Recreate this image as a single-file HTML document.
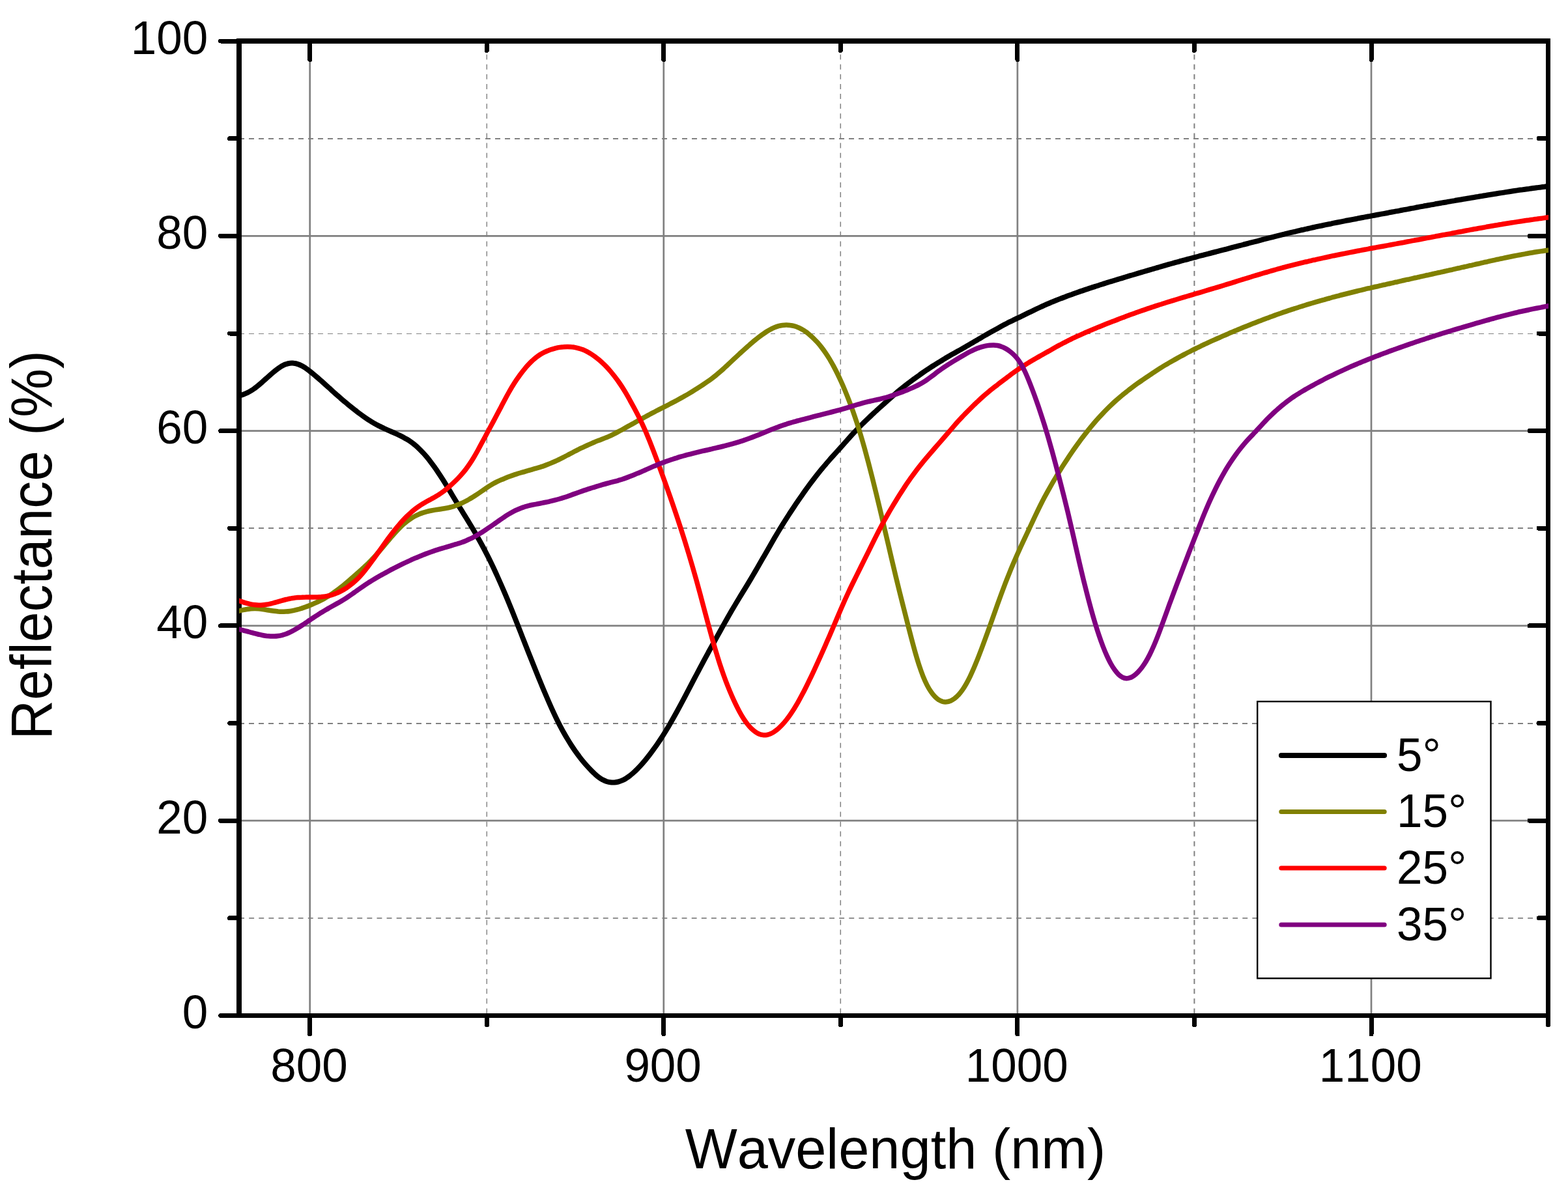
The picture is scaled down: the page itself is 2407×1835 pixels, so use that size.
<!DOCTYPE html>
<html lang="en"><head><meta charset="utf-8"><title>Reflectance vs Wavelength</title>
<style>html,body{margin:0;padding:0;width:2407px;height:1835px;background:#fff;}svg{display:block;}text{font-family:"Liberation Sans",sans-serif;fill:#000;font-kerning:none;font-variant-ligatures:none;}</style>
</head><body>
<svg width="2407" height="1835" viewBox="0 0 2407 1835">
<rect width="2407" height="1835" fill="#fff"/>
<defs><clipPath id="pc"><rect x="367.1" y="63.0" width="2009.9" height="1496.5"/></clipPath></defs>
<g stroke="#808080"><line x1="475.7" y1="63.0" x2="475.7" y2="1559.5" stroke-width="2.7"/><line x1="1018.8" y1="63.0" x2="1018.8" y2="1559.5" stroke-width="2.7"/><line x1="1561.9" y1="63.0" x2="1561.9" y2="1559.5" stroke-width="2.7"/><line x1="2105.0" y1="63.0" x2="2105.0" y2="1559.5" stroke-width="2.7"/><line x1="367.1" y1="1260.2" x2="2376.5" y2="1260.2" stroke-width="2.7"/><line x1="367.1" y1="960.9" x2="2376.5" y2="960.9" stroke-width="2.7"/><line x1="367.1" y1="661.6" x2="2376.5" y2="661.6" stroke-width="2.7"/><line x1="367.1" y1="362.3" x2="2376.5" y2="362.3" stroke-width="2.7"/></g>
<g stroke="#808080"><line x1="747.3" y1="63.0" x2="747.3" y2="1559.5" stroke-width="1.4" stroke-dasharray="7.9 7.2" stroke-dashoffset="-5.6"/><line x1="1290.3" y1="63.0" x2="1290.3" y2="1559.5" stroke-width="1.5" stroke-dasharray="7.9 7.2" stroke-dashoffset="-5.6"/><line x1="1833.4" y1="63.0" x2="1833.4" y2="1559.5" stroke-width="2.0" stroke-dasharray="7.9 7.2" stroke-dashoffset="-5.6"/><line x1="367.1" y1="1409.8" x2="2376.5" y2="1409.8" stroke-width="1.7" stroke-dasharray="7.9 7.2"/><line x1="367.1" y1="1111.0" x2="2376.5" y2="1111.0" stroke-width="2.0" stroke-dasharray="7.9 7.2" shape-rendering="crispEdges"/><line x1="367.1" y1="811.0" x2="2376.5" y2="811.0" stroke-width="2.0" stroke-dasharray="7.9 7.2" shape-rendering="crispEdges"/><line x1="367.1" y1="512.5" x2="2376.5" y2="512.5" stroke-width="1.0" stroke-dasharray="7.9 7.2" shape-rendering="crispEdges"/><line x1="367.1" y1="213.0" x2="2376.5" y2="213.0" stroke-width="2.0" stroke-dasharray="7.9 7.2" shape-rendering="crispEdges"/></g>
<g stroke="#000" stroke-width="7" stroke-linecap="round" shape-rendering="crispEdges"><line x1="367.1" y1="59.0" x2="367.1" y2="1563.0" stroke-width="7.8" stroke-linecap="butt"/><line x1="2376.5" y1="59.0" x2="2376.5" y2="1563.0" stroke-width="7" stroke-linecap="butt"/><line x1="363.2" y1="63.0" x2="2380.0" y2="63.0" stroke-width="8" stroke-linecap="butt"/><line x1="363.2" y1="1559.5" x2="2380.0" y2="1559.5" stroke-width="7" stroke-linecap="butt"/><line x1="475.7" y1="1559.5" x2="475.7" y2="1588.0"/><line x1="475.7" y1="63.0" x2="475.7" y2="91.5"/><line x1="747.3" y1="1559.5" x2="747.3" y2="1574.0"/><line x1="747.3" y1="63.0" x2="747.3" y2="77.5"/><line x1="1018.8" y1="1559.5" x2="1018.8" y2="1588.0"/><line x1="1018.8" y1="63.0" x2="1018.8" y2="91.5"/><line x1="1290.3" y1="1559.5" x2="1290.3" y2="1574.0"/><line x1="1290.3" y1="63.0" x2="1290.3" y2="77.5"/><line x1="1561.9" y1="1559.5" x2="1561.9" y2="1588.0"/><line x1="1561.9" y1="63.0" x2="1561.9" y2="91.5"/><line x1="1833.4" y1="1559.5" x2="1833.4" y2="1574.0"/><line x1="1833.4" y1="63.0" x2="1833.4" y2="77.5"/><line x1="2105.0" y1="1559.5" x2="2105.0" y2="1588.0"/><line x1="2105.0" y1="63.0" x2="2105.0" y2="91.5"/><line x1="2376.5" y1="1559.5" x2="2376.5" y2="1574.0"/><line x1="2376.5" y1="63.0" x2="2376.5" y2="77.5"/><line x1="367.1" y1="1559.5" x2="338.6" y2="1559.5"/><line x1="2376.5" y1="1559.5" x2="2348.0" y2="1559.5"/><line x1="367.1" y1="1409.8" x2="352.6" y2="1409.8"/><line x1="2376.5" y1="1409.8" x2="2362.0" y2="1409.8"/><line x1="367.1" y1="1260.2" x2="338.6" y2="1260.2"/><line x1="2376.5" y1="1260.2" x2="2348.0" y2="1260.2"/><line x1="367.1" y1="1110.5" x2="352.6" y2="1110.5"/><line x1="2376.5" y1="1110.5" x2="2362.0" y2="1110.5"/><line x1="367.1" y1="960.9" x2="338.6" y2="960.9"/><line x1="2376.5" y1="960.9" x2="2348.0" y2="960.9"/><line x1="367.1" y1="811.2" x2="352.6" y2="811.2"/><line x1="2376.5" y1="811.2" x2="2362.0" y2="811.2"/><line x1="367.1" y1="661.6" x2="338.6" y2="661.6"/><line x1="2376.5" y1="661.6" x2="2348.0" y2="661.6"/><line x1="367.1" y1="512.0" x2="352.6" y2="512.0"/><line x1="2376.5" y1="512.0" x2="2362.0" y2="512.0"/><line x1="367.1" y1="362.3" x2="338.6" y2="362.3"/><line x1="2376.5" y1="362.3" x2="2348.0" y2="362.3"/><line x1="367.1" y1="212.7" x2="352.6" y2="212.7"/><line x1="2376.5" y1="212.7" x2="2362.0" y2="212.7"/><line x1="367.1" y1="63.0" x2="338.6" y2="63.0"/><line x1="2376.5" y1="63.0" x2="2348.0" y2="63.0"/></g>
<g clip-path="url(#pc)" fill="none" stroke-linejoin="round"><path d="M355.1 610.6C356.1 610.4 359.1 609.8 361.1 609.4C363.1 608.9 365.1 608.4 367.1 607.9C369.1 607.3 371.1 606.7 373.1 605.9C375.1 605.2 377.1 604.3 379.1 603.4C381.1 602.4 383.1 601.3 385.1 600.1C387.1 598.9 389.1 597.6 391.1 596.1C393.1 594.7 395.1 593.0 397.1 591.4C399.1 589.7 401.1 588.0 403.1 586.2C405.1 584.5 407.1 582.6 409.1 580.9C411.1 579.1 413.1 577.3 415.1 575.5C417.1 573.8 419.1 572.0 421.1 570.4C423.1 568.7 425.1 567.1 427.1 565.7C429.1 564.3 431.1 562.9 433.1 561.8C435.1 560.8 437.1 559.8 439.1 559.2C441.1 558.5 443.1 558.0 445.1 557.8C447.1 557.6 449.1 557.5 451.1 557.8C453.1 558.0 455.1 558.4 457.1 559.1C459.1 559.7 461.1 560.6 463.1 561.6C465.1 562.6 467.1 563.9 469.1 565.2C471.1 566.6 473.1 568.1 475.1 569.7C477.1 571.2 479.1 572.9 481.1 574.5C483.1 576.2 485.1 577.9 487.1 579.6C489.1 581.3 491.1 583.1 493.1 584.8C495.1 586.6 497.1 588.4 499.1 590.2C501.1 592.0 503.1 593.8 505.1 595.6C507.1 597.4 509.1 599.3 511.1 601.1C513.1 602.9 515.1 604.7 517.1 606.5C519.1 608.2 521.1 610.0 523.1 611.7C525.1 613.5 527.1 615.2 529.1 616.8C531.1 618.5 533.1 620.2 535.1 621.8C537.1 623.4 539.1 625.0 541.1 626.6C543.1 628.2 545.1 629.8 547.1 631.3C549.1 632.9 551.1 634.4 553.1 635.9C555.1 637.4 557.1 638.9 559.1 640.3C561.1 641.7 563.1 643.1 565.1 644.4C567.1 645.7 569.1 646.9 571.1 648.1C573.1 649.3 575.1 650.5 577.1 651.6C579.1 652.6 581.1 653.7 583.1 654.7C585.1 655.7 587.1 656.6 589.1 657.6C591.1 658.5 593.1 659.4 595.1 660.3C597.1 661.2 599.1 662.1 601.1 663.0C603.1 663.9 605.1 664.7 607.1 665.6C609.1 666.5 611.1 667.4 613.1 668.4C615.1 669.4 617.1 670.4 619.1 671.4C621.1 672.5 623.1 673.6 625.1 674.8C627.1 676.0 629.1 677.3 631.1 678.7C633.1 680.1 635.1 681.7 637.1 683.4C639.1 685.0 641.1 686.9 643.1 688.8C645.1 690.7 647.1 692.8 649.1 694.9C651.1 697.1 653.1 699.4 655.1 701.7C657.1 704.1 659.1 706.6 661.1 709.3C663.1 711.9 665.1 714.6 667.1 717.4C669.1 720.2 671.1 723.2 673.1 726.2C675.1 729.1 677.1 732.2 679.1 735.4C681.1 738.5 683.1 741.7 685.1 745.0C687.1 748.2 689.1 751.6 691.1 754.9C693.1 758.3 695.1 761.6 697.1 765.0C699.1 768.3 701.1 771.6 703.1 774.9C705.1 778.2 707.1 781.4 709.1 784.7C711.1 787.9 713.1 791.2 715.1 794.4C717.1 797.7 719.1 800.9 721.1 804.3C723.1 807.6 725.1 810.9 727.1 814.3C729.1 817.7 731.1 821.1 733.1 824.7C735.1 828.2 737.1 831.8 739.1 835.5C741.1 839.2 743.1 842.9 745.1 846.8C747.1 850.6 749.1 854.5 751.1 858.5C753.1 862.6 755.1 866.7 757.1 870.9C759.1 875.2 761.1 879.5 763.1 884.0C765.1 888.4 767.1 892.9 769.1 897.5C771.1 902.1 773.1 906.7 775.1 911.4C777.1 916.1 779.1 920.8 781.1 925.7C783.1 930.5 785.1 935.5 787.1 940.4C789.1 945.4 791.1 950.5 793.1 955.6C795.1 960.7 797.1 965.8 799.1 970.9C801.1 976.0 803.1 981.2 805.1 986.3C807.1 991.4 809.1 996.4 811.1 1001.4C813.1 1006.5 815.1 1011.5 817.1 1016.5C819.1 1021.5 821.1 1026.5 823.1 1031.4C825.1 1036.4 827.1 1041.4 829.1 1046.2C831.1 1051.1 833.1 1056.0 835.1 1060.7C837.1 1065.5 839.1 1070.2 841.1 1074.8C843.1 1079.4 845.1 1084.0 847.1 1088.4C849.1 1092.8 851.1 1097.1 853.1 1101.2C855.1 1105.4 857.1 1109.4 859.1 1113.3C861.1 1117.1 863.1 1120.9 865.1 1124.5C867.1 1128.1 869.1 1131.5 871.1 1134.8C873.1 1138.2 875.1 1141.4 877.1 1144.5C879.1 1147.5 881.1 1150.5 883.1 1153.4C885.1 1156.2 887.1 1159.0 889.1 1161.6C891.1 1164.3 893.1 1166.8 895.1 1169.2C897.1 1171.6 899.1 1173.9 901.1 1176.1C903.1 1178.4 905.1 1180.5 907.1 1182.6C909.1 1184.6 911.1 1186.6 913.1 1188.4C915.1 1190.2 917.1 1192.0 919.1 1193.5C921.1 1195.0 923.1 1196.3 925.1 1197.3C927.1 1198.4 929.1 1199.3 931.1 1200.0C933.1 1200.6 935.1 1201.1 937.1 1201.3C939.1 1201.6 941.1 1201.6 943.1 1201.5C945.1 1201.4 947.1 1201.0 949.1 1200.5C951.1 1200.0 953.1 1199.3 955.1 1198.4C957.1 1197.5 959.1 1196.4 961.1 1195.2C963.1 1193.9 965.1 1192.5 967.1 1191.0C969.1 1189.4 971.1 1187.7 973.1 1185.9C975.1 1184.1 977.1 1182.1 979.1 1180.1C981.1 1178.0 983.1 1175.9 985.1 1173.6C987.1 1171.4 989.1 1169.0 991.1 1166.6C993.1 1164.1 995.1 1161.6 997.1 1159.0C999.1 1156.4 1001.1 1153.7 1003.1 1150.9C1005.1 1148.1 1007.1 1145.3 1009.1 1142.4C1011.1 1139.5 1013.1 1136.6 1015.1 1133.5C1017.1 1130.4 1019.1 1127.3 1021.1 1124.0C1023.1 1120.7 1025.1 1117.4 1027.1 1114.0C1029.1 1110.5 1031.1 1107.0 1033.1 1103.5C1035.1 1099.9 1037.1 1096.3 1039.1 1092.7C1041.1 1089.0 1043.1 1085.3 1045.1 1081.6C1047.1 1077.9 1049.1 1074.1 1051.1 1070.3C1053.1 1066.5 1055.1 1062.7 1057.1 1058.9C1059.1 1055.1 1061.1 1051.2 1063.1 1047.4C1065.1 1043.6 1067.1 1039.8 1069.1 1036.0C1071.1 1032.2 1073.1 1028.4 1075.1 1024.6C1077.1 1020.8 1079.1 1017.1 1081.1 1013.4C1083.1 1009.7 1085.1 1006.0 1087.1 1002.3C1089.1 998.7 1091.1 995.1 1093.1 991.4C1095.1 987.8 1097.1 984.2 1099.1 980.6C1101.1 977.0 1103.1 973.3 1105.1 969.7C1107.1 966.1 1109.1 962.5 1111.1 958.9C1113.1 955.3 1115.1 951.8 1117.1 948.3C1119.1 944.7 1121.1 941.3 1123.1 937.8C1125.1 934.4 1127.1 931.0 1129.1 927.7C1131.1 924.3 1133.1 921.0 1135.1 917.7C1137.1 914.5 1139.1 911.2 1141.1 907.9C1143.1 904.7 1145.1 901.4 1147.1 898.1C1149.1 894.8 1151.1 891.4 1153.1 888.1C1155.1 884.7 1157.1 881.3 1159.1 877.9C1161.1 874.5 1163.1 871.0 1165.1 867.6C1167.1 864.1 1169.1 860.6 1171.1 857.1C1173.1 853.7 1175.1 850.2 1177.1 846.7C1179.1 843.2 1181.1 839.7 1183.1 836.2C1185.1 832.7 1187.1 829.3 1189.1 825.8C1191.1 822.4 1193.1 819.0 1195.1 815.7C1197.1 812.3 1199.1 809.0 1201.1 805.8C1203.1 802.6 1205.1 799.4 1207.1 796.3C1209.1 793.1 1211.1 790.1 1213.1 787.0C1215.1 784.0 1217.1 781.0 1219.1 778.0C1221.1 775.0 1223.1 772.0 1225.1 769.1C1227.1 766.2 1229.1 763.3 1231.1 760.4C1233.1 757.5 1235.1 754.7 1237.1 751.9C1239.1 749.1 1241.1 746.3 1243.1 743.6C1245.1 740.9 1247.1 738.3 1249.1 735.7C1251.1 733.1 1253.1 730.5 1255.1 728.0C1257.1 725.5 1259.1 723.1 1261.1 720.6C1263.1 718.2 1265.1 715.8 1267.1 713.5C1269.1 711.1 1271.1 708.8 1273.1 706.5C1275.1 704.2 1277.1 702.0 1279.1 699.8C1281.1 697.5 1283.1 695.3 1285.1 693.1C1287.1 690.9 1289.1 688.7 1291.1 686.5C1293.1 684.2 1295.1 682.0 1297.1 679.7C1299.1 677.5 1301.1 675.2 1303.1 673.0C1305.1 670.7 1307.1 668.5 1309.1 666.3C1311.1 664.1 1313.1 662.0 1315.1 659.9C1317.1 657.8 1319.1 655.7 1321.1 653.7C1323.1 651.7 1325.1 649.8 1327.1 647.8C1329.1 645.9 1331.1 644.0 1333.1 642.1C1335.1 640.2 1337.1 638.3 1339.1 636.4C1341.1 634.6 1343.1 632.7 1345.1 630.9C1347.1 629.0 1349.1 627.2 1351.1 625.4C1353.1 623.6 1355.1 621.8 1357.1 620.0C1359.1 618.2 1361.1 616.4 1363.1 614.6C1365.1 612.8 1367.1 611.1 1369.1 609.3C1371.1 607.5 1373.1 605.7 1375.1 604.0C1377.1 602.2 1379.1 600.5 1381.1 598.9C1383.1 597.2 1385.1 595.6 1387.1 594.0C1389.1 592.4 1391.1 590.9 1393.1 589.4C1395.1 587.8 1397.1 586.4 1399.1 584.9C1401.1 583.4 1403.1 581.9 1405.1 580.5C1407.1 579.0 1409.1 577.6 1411.1 576.2C1413.1 574.7 1415.1 573.3 1417.1 571.9C1419.1 570.6 1421.1 569.2 1423.1 567.8C1425.1 566.5 1427.1 565.2 1429.1 563.9C1431.1 562.6 1433.1 561.4 1435.1 560.1C1437.1 558.9 1439.1 557.7 1441.1 556.4C1443.1 555.2 1445.1 553.9 1447.1 552.7C1449.1 551.5 1451.1 550.2 1453.1 549.0C1455.1 547.8 1457.1 546.6 1459.1 545.5C1461.1 544.4 1463.1 543.3 1465.1 542.2C1467.1 541.0 1469.1 539.9 1471.1 538.8C1473.1 537.7 1475.1 536.5 1477.1 535.4C1479.1 534.2 1481.1 533.0 1483.1 531.9C1485.1 530.7 1487.1 529.5 1489.1 528.4C1491.1 527.2 1493.1 526.0 1495.1 524.9C1497.1 523.7 1499.1 522.5 1501.1 521.4C1503.1 520.2 1505.1 519.0 1507.1 517.9C1509.1 516.7 1511.1 515.6 1513.1 514.4C1515.1 513.3 1517.1 512.1 1519.1 511.0C1521.1 509.9 1523.1 508.8 1525.1 507.7C1527.1 506.6 1529.1 505.5 1531.1 504.4C1533.1 503.3 1535.1 502.2 1537.1 501.1C1539.1 500.0 1541.1 498.9 1543.1 497.8C1545.1 496.8 1547.1 495.7 1549.1 494.7C1551.1 493.7 1553.1 492.7 1555.1 491.8C1557.1 490.8 1559.1 489.9 1561.1 488.9C1563.1 488.0 1565.1 487.1 1567.1 486.1C1569.1 485.2 1571.1 484.2 1573.1 483.2C1575.1 482.2 1577.1 481.2 1579.1 480.2C1581.1 479.2 1583.1 478.2 1585.1 477.3C1587.1 476.3 1589.1 475.3 1591.1 474.4C1593.1 473.4 1595.1 472.5 1597.1 471.6C1599.1 470.7 1601.1 469.8 1603.1 468.9C1605.1 468.0 1607.1 467.1 1609.1 466.3C1611.1 465.4 1613.1 464.6 1615.1 463.7C1617.1 462.9 1619.1 462.1 1621.1 461.3C1623.1 460.5 1625.1 459.7 1627.1 458.9C1629.1 458.1 1631.1 457.3 1633.1 456.6C1635.1 455.8 1637.1 455.1 1639.1 454.3C1641.1 453.6 1643.1 452.9 1645.1 452.2C1647.1 451.4 1649.1 450.7 1651.1 450.0C1653.1 449.3 1655.1 448.6 1657.1 447.9C1659.1 447.2 1661.1 446.6 1663.1 445.9C1665.1 445.2 1667.1 444.5 1669.1 443.9C1671.1 443.2 1673.1 442.5 1675.1 441.9C1677.1 441.2 1679.1 440.6 1681.1 439.9C1683.1 439.3 1685.1 438.6 1687.1 438.0C1689.1 437.4 1691.1 436.7 1693.1 436.1C1695.1 435.5 1697.1 434.8 1699.1 434.2C1701.1 433.6 1703.1 433.0 1705.1 432.3C1707.1 431.7 1709.1 431.1 1711.1 430.5C1713.1 429.9 1715.1 429.3 1717.1 428.7C1719.1 428.1 1721.1 427.4 1723.1 426.8C1725.1 426.2 1727.1 425.6 1729.1 425.0C1731.1 424.4 1733.1 423.8 1735.1 423.2C1737.1 422.7 1739.1 422.1 1741.1 421.5C1743.1 420.9 1745.1 420.3 1747.1 419.7C1749.1 419.1 1751.1 418.5 1753.1 417.9C1755.1 417.3 1757.1 416.7 1759.1 416.1C1761.1 415.6 1763.1 415.0 1765.1 414.4C1767.1 413.8 1769.1 413.2 1771.1 412.6C1773.1 412.0 1775.1 411.5 1777.1 410.9C1779.1 410.3 1781.1 409.7 1783.1 409.1C1785.1 408.6 1787.1 408.0 1789.1 407.4C1791.1 406.9 1793.1 406.3 1795.1 405.7C1797.1 405.2 1799.1 404.6 1801.1 404.0C1803.1 403.5 1805.1 402.9 1807.1 402.4C1809.1 401.8 1811.1 401.3 1813.1 400.7C1815.1 400.2 1817.1 399.6 1819.1 399.1C1821.1 398.5 1823.1 398.0 1825.1 397.5C1827.1 396.9 1829.1 396.4 1831.1 395.9C1833.1 395.3 1835.1 394.8 1837.1 394.3C1839.1 393.8 1841.1 393.2 1843.1 392.7C1845.1 392.2 1847.1 391.7 1849.1 391.1C1851.1 390.6 1853.1 390.1 1855.1 389.6C1857.1 389.0 1859.1 388.5 1861.1 388.0C1863.1 387.5 1865.1 387.0 1867.1 386.5C1869.1 385.9 1871.1 385.4 1873.1 384.9C1875.1 384.4 1877.1 383.9 1879.1 383.4C1881.1 382.8 1883.1 382.3 1885.1 381.8C1887.1 381.3 1889.1 380.8 1891.1 380.2C1893.1 379.7 1895.1 379.2 1897.1 378.7C1899.1 378.2 1901.1 377.6 1903.1 377.1C1905.1 376.6 1907.1 376.1 1909.1 375.5C1911.1 375.0 1913.1 374.5 1915.1 374.0C1917.1 373.5 1919.1 372.9 1921.1 372.4C1923.1 371.9 1925.1 371.4 1927.1 370.9C1929.1 370.3 1931.1 369.8 1933.1 369.3C1935.1 368.8 1937.1 368.3 1939.1 367.7C1941.1 367.2 1943.1 366.7 1945.1 366.2C1947.1 365.7 1949.1 365.2 1951.1 364.7C1953.1 364.1 1955.1 363.6 1957.1 363.1C1959.1 362.6 1961.1 362.1 1963.1 361.6C1965.1 361.1 1967.1 360.6 1969.1 360.1C1971.1 359.6 1973.1 359.2 1975.1 358.7C1977.1 358.2 1979.1 357.7 1981.1 357.2C1983.1 356.8 1985.1 356.3 1987.1 355.8C1989.1 355.3 1991.1 354.9 1993.1 354.4C1995.1 353.9 1997.1 353.5 1999.1 353.0C2001.1 352.6 2003.1 352.1 2005.1 351.7C2007.1 351.2 2009.1 350.8 2011.1 350.3C2013.1 349.9 2015.1 349.5 2017.1 349.0C2019.1 348.6 2021.1 348.2 2023.1 347.7C2025.1 347.3 2027.1 346.9 2029.1 346.5C2031.1 346.0 2033.1 345.6 2035.1 345.2C2037.1 344.8 2039.1 344.4 2041.1 344.0C2043.1 343.6 2045.1 343.1 2047.1 342.7C2049.1 342.3 2051.1 341.9 2053.1 341.5C2055.1 341.1 2057.1 340.7 2059.1 340.3C2061.1 339.9 2063.1 339.5 2065.1 339.1C2067.1 338.7 2069.1 338.4 2071.1 338.0C2073.1 337.6 2075.1 337.2 2077.1 336.8C2079.1 336.4 2081.1 336.0 2083.1 335.7C2085.1 335.3 2087.1 334.9 2089.1 334.5C2091.1 334.1 2093.1 333.8 2095.1 333.4C2097.1 333.0 2099.1 332.6 2101.1 332.3C2103.1 331.9 2105.1 331.5 2107.1 331.1C2109.1 330.8 2111.1 330.4 2113.1 330.0C2115.1 329.6 2117.1 329.3 2119.1 328.9C2121.1 328.5 2123.1 328.2 2125.1 327.8C2127.1 327.4 2129.1 327.0 2131.1 326.7C2133.1 326.3 2135.1 325.9 2137.1 325.5C2139.1 325.2 2141.1 324.8 2143.1 324.4C2145.1 324.1 2147.1 323.7 2149.1 323.3C2151.1 322.9 2153.1 322.6 2155.1 322.2C2157.1 321.8 2159.1 321.4 2161.1 321.1C2163.1 320.7 2165.1 320.3 2167.1 319.9C2169.1 319.6 2171.1 319.2 2173.1 318.8C2175.1 318.4 2177.1 318.1 2179.1 317.7C2181.1 317.3 2183.1 317.0 2185.1 316.6C2187.1 316.2 2189.1 315.9 2191.1 315.5C2193.1 315.1 2195.1 314.8 2197.1 314.4C2199.1 314.1 2201.1 313.7 2203.1 313.3C2205.1 313.0 2207.1 312.6 2209.1 312.3C2211.1 311.9 2213.1 311.6 2215.1 311.2C2217.1 310.9 2219.1 310.5 2221.1 310.2C2223.1 309.8 2225.1 309.5 2227.1 309.1C2229.1 308.8 2231.1 308.4 2233.1 308.1C2235.1 307.7 2237.1 307.4 2239.1 307.0C2241.1 306.7 2243.1 306.4 2245.1 306.0C2247.1 305.7 2249.1 305.3 2251.1 305.0C2253.1 304.7 2255.1 304.3 2257.1 304.0C2259.1 303.7 2261.1 303.3 2263.1 303.0C2265.1 302.6 2267.1 302.3 2269.1 302.0C2271.1 301.6 2273.1 301.3 2275.1 301.0C2277.1 300.6 2279.1 300.3 2281.1 300.0C2283.1 299.6 2285.1 299.3 2287.1 299.0C2289.1 298.7 2291.1 298.3 2293.1 298.0C2295.1 297.7 2297.1 297.4 2299.1 297.0C2301.1 296.7 2303.1 296.4 2305.1 296.1C2307.1 295.8 2309.1 295.5 2311.1 295.1C2313.1 294.8 2315.1 294.5 2317.1 294.2C2319.1 293.9 2321.1 293.6 2323.1 293.3C2325.1 293.0 2327.1 292.7 2329.1 292.4C2331.1 292.1 2333.1 291.8 2335.1 291.6C2337.1 291.3 2339.1 291.0 2341.1 290.7C2343.1 290.4 2345.1 290.1 2347.1 289.9C2349.1 289.6 2351.1 289.3 2353.1 289.0C2355.1 288.8 2357.1 288.5 2359.1 288.2C2361.1 288.0 2363.1 287.7 2365.1 287.5C2367.1 287.2 2369.1 286.9 2371.1 286.7C2373.1 286.4 2375.1 286.2 2377.1 285.9C2379.1 285.7 2382.1 285.3 2383.1 285.2" stroke="#000000" stroke-width="8.0"/><path d="M355.1 940.9C356.1 940.6 359.1 939.9 361.1 939.4C363.1 938.9 365.1 938.5 367.1 938.0C369.1 937.5 371.1 937.0 373.1 936.6C375.1 936.2 377.1 935.8 379.1 935.5C381.1 935.1 383.1 934.9 385.1 934.7C387.1 934.5 389.1 934.4 391.1 934.4C393.1 934.4 395.1 934.5 397.1 934.7C399.1 934.9 401.1 935.2 403.1 935.5C405.1 935.8 407.1 936.1 409.1 936.5C411.1 936.8 413.1 937.2 415.1 937.5C417.1 937.8 419.1 938.1 421.1 938.3C423.1 938.6 425.1 938.8 427.1 939.0C429.1 939.1 431.1 939.2 433.1 939.3C435.1 939.3 437.1 939.2 439.1 939.1C441.1 939.0 443.1 938.8 445.1 938.5C447.1 938.2 449.1 937.9 451.1 937.4C453.1 937.0 455.1 936.5 457.1 935.9C459.1 935.4 461.1 934.7 463.1 934.1C465.1 933.4 467.1 932.7 469.1 932.0C471.1 931.3 473.1 930.5 475.1 929.7C477.1 928.9 479.1 928.0 481.1 927.2C483.1 926.3 485.1 925.4 487.1 924.5C489.1 923.6 491.1 922.6 493.1 921.6C495.1 920.6 497.1 919.5 499.1 918.4C501.1 917.2 503.1 916.0 505.1 914.8C507.1 913.5 509.1 912.2 511.1 910.9C513.1 909.5 515.1 908.1 517.1 906.6C519.1 905.1 521.1 903.6 523.1 902.0C525.1 900.4 527.1 898.8 529.1 897.2C531.1 895.5 533.1 893.8 535.1 892.1C537.1 890.4 539.1 888.7 541.1 886.9C543.1 885.2 545.1 883.4 547.1 881.6C549.1 879.8 551.1 878.1 553.1 876.2C555.1 874.4 557.1 872.6 559.1 870.8C561.1 868.9 563.1 867.0 565.1 865.1C567.1 863.1 569.1 861.1 571.1 858.9C573.1 856.8 575.1 854.6 577.1 852.4C579.1 850.2 581.1 847.9 583.1 845.5C585.1 843.2 587.1 840.8 589.1 838.5C591.1 836.1 593.1 833.7 595.1 831.3C597.1 828.9 599.1 826.6 601.1 824.2C603.1 821.9 605.1 819.6 607.1 817.4C609.1 815.2 611.1 813.0 613.1 811.0C615.1 809.0 617.1 807.0 619.1 805.2C621.1 803.4 623.1 801.8 625.1 800.2C627.1 798.7 629.1 797.3 631.1 796.0C633.1 794.7 635.1 793.5 637.1 792.5C639.1 791.4 641.1 790.5 643.1 789.7C645.1 788.8 647.1 788.1 649.1 787.4C651.1 786.8 653.1 786.2 655.1 785.7C657.1 785.2 659.1 784.7 661.1 784.3C663.1 783.9 665.1 783.5 667.1 783.1C669.1 782.8 671.1 782.5 673.1 782.2C675.1 781.9 677.1 781.6 679.1 781.2C681.1 780.9 683.1 780.6 685.1 780.2C687.1 779.9 689.1 779.5 691.1 779.0C693.1 778.5 695.1 777.9 697.1 777.3C699.1 776.6 701.1 775.9 703.1 775.1C705.1 774.3 707.1 773.4 709.1 772.5C711.1 771.5 713.1 770.5 715.1 769.5C717.1 768.4 719.1 767.3 721.1 766.1C723.1 765.0 725.1 763.7 727.1 762.5C729.1 761.2 731.1 759.9 733.1 758.6C735.1 757.3 737.1 755.9 739.1 754.5C741.1 753.1 743.1 751.7 745.1 750.4C747.1 749.0 749.1 747.7 751.1 746.4C753.1 745.2 755.1 744.0 757.1 742.8C759.1 741.7 761.1 740.7 763.1 739.7C765.1 738.7 767.1 737.8 769.1 736.9C771.1 736.0 773.1 735.2 775.1 734.4C777.1 733.5 779.1 732.8 781.1 732.0C783.1 731.3 785.1 730.6 787.1 729.9C789.1 729.2 791.1 728.5 793.1 727.9C795.1 727.2 797.1 726.6 799.1 726.0C801.1 725.4 803.1 724.9 805.1 724.3C807.1 723.7 809.1 723.1 811.1 722.5C813.1 722.0 815.1 721.4 817.1 720.8C819.1 720.2 821.1 719.7 823.1 719.1C825.1 718.6 827.1 718.0 829.1 717.4C831.1 716.7 833.1 716.1 835.1 715.4C837.1 714.7 839.1 713.9 841.1 713.1C843.1 712.3 845.1 711.5 847.1 710.6C849.1 709.8 851.1 708.9 853.1 708.0C855.1 707.0 857.1 706.1 859.1 705.1C861.1 704.1 863.1 703.1 865.1 702.1C867.1 701.1 869.1 700.0 871.1 699.0C873.1 697.9 875.1 696.9 877.1 695.8C879.1 694.8 881.1 693.7 883.1 692.7C885.1 691.7 887.1 690.6 889.1 689.6C891.1 688.7 893.1 687.7 895.1 686.8C897.1 685.8 899.1 684.9 901.1 684.0C903.1 683.1 905.1 682.2 907.1 681.3C909.1 680.4 911.1 679.5 913.1 678.7C915.1 677.8 917.1 677.0 919.1 676.3C921.1 675.5 923.1 674.8 925.1 674.0C927.1 673.3 929.1 672.6 931.1 671.7C933.1 670.9 935.1 670.0 937.1 669.1C939.1 668.1 941.1 667.1 943.1 666.1C945.1 665.1 947.1 664.0 949.1 662.9C951.1 661.8 953.1 660.8 955.1 659.7C957.1 658.6 959.1 657.5 961.1 656.3C963.1 655.2 965.1 654.1 967.1 653.0C969.1 651.9 971.1 650.8 973.1 649.7C975.1 648.5 977.1 647.4 979.1 646.3C981.1 645.2 983.1 644.1 985.1 643.0C987.1 641.9 989.1 640.9 991.1 639.8C993.1 638.7 995.1 637.6 997.1 636.5C999.1 635.5 1001.1 634.4 1003.1 633.3C1005.1 632.3 1007.1 631.2 1009.1 630.2C1011.1 629.1 1013.1 628.1 1015.1 627.1C1017.1 626.1 1019.1 625.1 1021.1 624.1C1023.1 623.0 1025.1 622.1 1027.1 621.0C1029.1 620.0 1031.1 619.0 1033.1 617.9C1035.1 616.9 1037.1 615.8 1039.1 614.7C1041.1 613.6 1043.1 612.5 1045.1 611.4C1047.1 610.3 1049.1 609.2 1051.1 608.0C1053.1 606.9 1055.1 605.8 1057.1 604.6C1059.1 603.4 1061.1 602.2 1063.1 601.0C1065.1 599.8 1067.1 598.5 1069.1 597.2C1071.1 596.0 1073.1 594.7 1075.1 593.4C1077.1 592.1 1079.1 590.8 1081.1 589.4C1083.1 588.1 1085.1 586.7 1087.1 585.3C1089.1 583.9 1091.1 582.4 1093.1 580.9C1095.1 579.4 1097.1 577.8 1099.1 576.2C1101.1 574.6 1103.1 572.9 1105.1 571.2C1107.1 569.5 1109.1 567.7 1111.1 565.9C1113.1 564.0 1115.1 562.2 1117.1 560.3C1119.1 558.4 1121.1 556.5 1123.1 554.6C1125.1 552.7 1127.1 550.8 1129.1 549.0C1131.1 547.1 1133.1 545.3 1135.1 543.4C1137.1 541.6 1139.1 539.8 1141.1 538.0C1143.1 536.2 1145.1 534.4 1147.1 532.6C1149.1 530.8 1151.1 529.1 1153.1 527.3C1155.1 525.6 1157.1 523.9 1159.1 522.3C1161.1 520.7 1163.1 519.1 1165.1 517.5C1167.1 516.0 1169.1 514.5 1171.1 513.1C1173.1 511.7 1175.1 510.3 1177.1 509.0C1179.1 507.8 1181.1 506.6 1183.1 505.6C1185.1 504.5 1187.1 503.6 1189.1 502.8C1191.1 502.0 1193.1 501.3 1195.1 500.7C1197.1 500.2 1199.1 499.8 1201.1 499.5C1203.1 499.2 1205.1 499.1 1207.1 499.1C1209.1 499.1 1211.1 499.2 1213.1 499.5C1215.1 499.7 1217.1 500.1 1219.1 500.7C1221.1 501.2 1223.1 501.9 1225.1 502.8C1227.1 503.6 1229.1 504.6 1231.1 505.8C1233.1 506.9 1235.1 508.2 1237.1 509.6C1239.1 511.1 1241.1 512.6 1243.1 514.3C1245.1 516.0 1247.1 517.8 1249.1 519.8C1251.1 521.8 1253.1 523.9 1255.1 526.1C1257.1 528.4 1259.1 530.8 1261.1 533.4C1263.1 535.9 1265.1 538.7 1267.1 541.6C1269.1 544.5 1271.1 547.6 1273.1 550.9C1275.1 554.3 1277.1 557.7 1279.1 561.4C1281.1 565.1 1283.1 569.0 1285.1 573.0C1287.1 577.1 1289.1 581.3 1291.1 585.8C1293.1 590.2 1295.1 594.8 1297.1 599.6C1299.1 604.4 1301.1 609.4 1303.1 614.6C1305.1 619.8 1307.1 625.1 1309.1 630.7C1311.1 636.4 1313.1 642.2 1315.1 648.3C1317.1 654.5 1319.1 660.8 1321.1 667.5C1323.1 674.2 1325.1 681.1 1327.1 688.3C1329.1 695.5 1331.1 702.9 1333.1 710.5C1335.1 718.2 1337.1 726.0 1339.1 733.9C1341.1 741.9 1343.1 750.0 1345.1 758.2C1347.1 766.4 1349.1 774.8 1351.1 783.2C1353.1 791.6 1355.1 800.1 1357.1 808.6C1359.1 817.1 1361.1 825.6 1363.1 834.1C1365.1 842.7 1367.1 851.3 1369.1 859.8C1371.1 868.3 1373.1 876.8 1375.1 885.1C1377.1 893.4 1379.1 901.6 1381.1 909.6C1383.1 917.7 1385.1 925.5 1387.1 933.4C1389.1 941.3 1391.1 949.2 1393.1 957.0C1395.1 964.8 1397.1 972.8 1399.1 980.3C1401.1 987.9 1403.1 995.4 1405.1 1002.4C1407.1 1009.4 1409.1 1016.1 1411.1 1022.2C1413.1 1028.3 1415.1 1033.9 1417.1 1038.8C1419.1 1043.8 1421.1 1048.2 1423.1 1052.1C1425.1 1056.0 1427.1 1059.3 1429.1 1062.2C1431.1 1065.2 1433.1 1067.6 1435.1 1069.7C1437.1 1071.8 1439.1 1073.5 1441.1 1074.7C1443.1 1076.0 1445.1 1076.8 1447.1 1077.4C1449.1 1077.9 1451.1 1078.0 1453.1 1077.8C1455.1 1077.6 1457.1 1077.1 1459.1 1076.3C1461.1 1075.4 1463.1 1074.2 1465.1 1072.8C1467.1 1071.3 1469.1 1069.5 1471.1 1067.3C1473.1 1065.2 1475.1 1062.7 1477.1 1059.9C1479.1 1057.1 1481.1 1053.8 1483.1 1050.3C1485.1 1046.8 1487.1 1042.9 1489.1 1038.8C1491.1 1034.6 1493.1 1030.1 1495.1 1025.5C1497.1 1020.8 1499.1 1015.8 1501.1 1010.8C1503.1 1005.8 1505.1 1000.5 1507.1 995.2C1509.1 989.9 1511.1 984.5 1513.1 979.0C1515.1 973.5 1517.1 968.0 1519.1 962.4C1521.1 956.8 1523.1 951.1 1525.1 945.5C1527.1 939.8 1529.1 934.2 1531.1 928.6C1533.1 923.0 1535.1 917.4 1537.1 912.0C1539.1 906.6 1541.1 901.2 1543.1 896.0C1545.1 890.8 1547.1 885.7 1549.1 880.8C1551.1 875.8 1553.1 871.0 1555.1 866.3C1557.1 861.6 1559.1 857.0 1561.1 852.5C1563.1 848.0 1565.1 843.6 1567.1 839.3C1569.1 834.9 1571.1 830.6 1573.1 826.4C1575.1 822.1 1577.1 817.9 1579.1 813.6C1581.1 809.4 1583.1 805.1 1585.1 800.9C1587.1 796.6 1589.1 792.3 1591.1 788.2C1593.1 784.0 1595.1 779.8 1597.1 775.8C1599.1 771.8 1601.1 767.9 1603.1 764.1C1605.1 760.3 1607.1 756.7 1609.1 753.1C1611.1 749.5 1613.1 746.0 1615.1 742.5C1617.1 739.1 1619.1 735.7 1621.1 732.4C1623.1 729.0 1625.1 725.8 1627.1 722.5C1629.1 719.3 1631.1 716.1 1633.1 713.0C1635.1 709.9 1637.1 706.8 1639.1 703.8C1641.1 700.7 1643.1 697.8 1645.1 694.9C1647.1 691.9 1649.1 689.1 1651.1 686.3C1653.1 683.4 1655.1 680.7 1657.1 678.0C1659.1 675.2 1661.1 672.6 1663.1 669.9C1665.1 667.3 1667.1 664.8 1669.1 662.3C1671.1 659.7 1673.1 657.3 1675.1 654.9C1677.1 652.5 1679.1 650.1 1681.1 647.8C1683.1 645.5 1685.1 643.3 1687.1 641.1C1689.1 638.9 1691.1 636.7 1693.1 634.6C1695.1 632.5 1697.1 630.4 1699.1 628.4C1701.1 626.4 1703.1 624.4 1705.1 622.5C1707.1 620.6 1709.1 618.7 1711.1 616.9C1713.1 615.1 1715.1 613.3 1717.1 611.6C1719.1 609.9 1721.1 608.2 1723.1 606.5C1725.1 604.9 1727.1 603.3 1729.1 601.7C1731.1 600.1 1733.1 598.6 1735.1 597.0C1737.1 595.5 1739.1 594.0 1741.1 592.5C1743.1 591.0 1745.1 589.6 1747.1 588.1C1749.1 586.7 1751.1 585.3 1753.1 584.0C1755.1 582.6 1757.1 581.2 1759.1 579.9C1761.1 578.5 1763.1 577.1 1765.1 575.8C1767.1 574.5 1769.1 573.1 1771.1 571.8C1773.1 570.5 1775.1 569.2 1777.1 567.9C1779.1 566.6 1781.1 565.3 1783.1 564.1C1785.1 562.8 1787.1 561.6 1789.1 560.4C1791.1 559.2 1793.1 558.1 1795.1 556.9C1797.1 555.7 1799.1 554.6 1801.1 553.5C1803.1 552.3 1805.1 551.2 1807.1 550.1C1809.1 549.0 1811.1 547.9 1813.1 546.8C1815.1 545.8 1817.1 544.7 1819.1 543.6C1821.1 542.6 1823.1 541.5 1825.1 540.5C1827.1 539.5 1829.1 538.4 1831.1 537.4C1833.1 536.4 1835.1 535.4 1837.1 534.5C1839.1 533.5 1841.1 532.5 1843.1 531.6C1845.1 530.6 1847.1 529.7 1849.1 528.7C1851.1 527.8 1853.1 526.9 1855.1 525.9C1857.1 525.0 1859.1 524.1 1861.1 523.2C1863.1 522.3 1865.1 521.4 1867.1 520.5C1869.1 519.6 1871.1 518.7 1873.1 517.9C1875.1 517.0 1877.1 516.1 1879.1 515.2C1881.1 514.4 1883.1 513.5 1885.1 512.7C1887.1 511.8 1889.1 510.9 1891.1 510.1C1893.1 509.2 1895.1 508.4 1897.1 507.6C1899.1 506.7 1901.1 505.9 1903.1 505.1C1905.1 504.2 1907.1 503.4 1909.1 502.6C1911.1 501.8 1913.1 501.0 1915.1 500.2C1917.1 499.3 1919.1 498.5 1921.1 497.7C1923.1 496.9 1925.1 496.2 1927.1 495.4C1929.1 494.6 1931.1 493.8 1933.1 493.0C1935.1 492.3 1937.1 491.5 1939.1 490.8C1941.1 490.0 1943.1 489.2 1945.1 488.5C1947.1 487.8 1949.1 487.0 1951.1 486.3C1953.1 485.6 1955.1 484.8 1957.1 484.1C1959.1 483.4 1961.1 482.7 1963.1 482.0C1965.1 481.3 1967.1 480.6 1969.1 479.9C1971.1 479.2 1973.1 478.6 1975.1 477.9C1977.1 477.2 1979.1 476.5 1981.1 475.9C1983.1 475.2 1985.1 474.6 1987.1 473.9C1989.1 473.3 1991.1 472.6 1993.1 472.0C1995.1 471.4 1997.1 470.7 1999.1 470.1C2001.1 469.5 2003.1 468.9 2005.1 468.2C2007.1 467.6 2009.1 467.0 2011.1 466.4C2013.1 465.8 2015.1 465.2 2017.1 464.6C2019.1 464.1 2021.1 463.5 2023.1 462.9C2025.1 462.3 2027.1 461.7 2029.1 461.2C2031.1 460.6 2033.1 460.0 2035.1 459.5C2037.1 458.9 2039.1 458.4 2041.1 457.8C2043.1 457.3 2045.1 456.7 2047.1 456.2C2049.1 455.7 2051.1 455.1 2053.1 454.6C2055.1 454.1 2057.1 453.5 2059.1 453.0C2061.1 452.5 2063.1 452.0 2065.1 451.5C2067.1 451.0 2069.1 450.5 2071.1 450.0C2073.1 449.5 2075.1 449.0 2077.1 448.5C2079.1 448.0 2081.1 447.5 2083.1 447.0C2085.1 446.5 2087.1 446.0 2089.1 445.6C2091.1 445.1 2093.1 444.6 2095.1 444.1C2097.1 443.7 2099.1 443.2 2101.1 442.7C2103.1 442.3 2105.1 441.8 2107.1 441.4C2109.1 440.9 2111.1 440.4 2113.1 440.0C2115.1 439.5 2117.1 439.1 2119.1 438.6C2121.1 438.2 2123.1 437.7 2125.1 437.3C2127.1 436.8 2129.1 436.4 2131.1 435.9C2133.1 435.5 2135.1 435.0 2137.1 434.6C2139.1 434.1 2141.1 433.7 2143.1 433.2C2145.1 432.8 2147.1 432.3 2149.1 431.9C2151.1 431.4 2153.1 431.0 2155.1 430.5C2157.1 430.1 2159.1 429.7 2161.1 429.2C2163.1 428.8 2165.1 428.3 2167.1 427.9C2169.1 427.4 2171.1 427.0 2173.1 426.5C2175.1 426.1 2177.1 425.6 2179.1 425.2C2181.1 424.7 2183.1 424.3 2185.1 423.9C2187.1 423.4 2189.1 423.0 2191.1 422.5C2193.1 422.1 2195.1 421.6 2197.1 421.2C2199.1 420.7 2201.1 420.3 2203.1 419.8C2205.1 419.4 2207.1 418.9 2209.1 418.5C2211.1 418.1 2213.1 417.6 2215.1 417.2C2217.1 416.7 2219.1 416.3 2221.1 415.8C2223.1 415.4 2225.1 414.9 2227.1 414.5C2229.1 414.0 2231.1 413.6 2233.1 413.1C2235.1 412.7 2237.1 412.2 2239.1 411.8C2241.1 411.3 2243.1 410.9 2245.1 410.4C2247.1 410.0 2249.1 409.5 2251.1 409.1C2253.1 408.6 2255.1 408.2 2257.1 407.7C2259.1 407.3 2261.1 406.8 2263.1 406.4C2265.1 405.9 2267.1 405.4 2269.1 405.0C2271.1 404.5 2273.1 404.1 2275.1 403.6C2277.1 403.2 2279.1 402.7 2281.1 402.3C2283.1 401.8 2285.1 401.4 2287.1 400.9C2289.1 400.5 2291.1 400.1 2293.1 399.6C2295.1 399.2 2297.1 398.7 2299.1 398.3C2301.1 397.9 2303.1 397.4 2305.1 397.0C2307.1 396.6 2309.1 396.1 2311.1 395.7C2313.1 395.3 2315.1 394.9 2317.1 394.5C2319.1 394.1 2321.1 393.7 2323.1 393.3C2325.1 392.9 2327.1 392.5 2329.1 392.1C2331.1 391.7 2333.1 391.3 2335.1 391.0C2337.1 390.6 2339.1 390.2 2341.1 389.9C2343.1 389.5 2345.1 389.1 2347.1 388.8C2349.1 388.5 2351.1 388.1 2353.1 387.8C2355.1 387.4 2357.1 387.1 2359.1 386.8C2361.1 386.5 2363.1 386.2 2365.1 385.9C2367.1 385.6 2369.1 385.3 2371.1 385.0C2373.1 384.7 2375.1 384.4 2377.1 384.1C2379.1 383.8 2382.1 383.4 2383.1 383.3" stroke="#808000" stroke-width="7.5"/><path d="M355.1 918.2C356.1 918.6 359.1 919.7 361.1 920.4C363.1 921.1 365.1 921.8 367.1 922.5C369.1 923.2 371.1 923.9 373.1 924.6C375.1 925.3 377.1 925.9 379.1 926.4C381.1 927.0 383.1 927.5 385.1 927.9C387.1 928.3 389.1 928.6 391.1 928.8C393.1 929.0 395.1 929.2 397.1 929.2C399.1 929.2 401.1 929.2 403.1 929.0C405.1 928.9 407.1 928.6 409.1 928.3C411.1 928.0 413.1 927.6 415.1 927.1C417.1 926.6 419.1 926.1 421.1 925.5C423.1 925.0 425.1 924.4 427.1 923.8C429.1 923.2 431.1 922.6 433.1 922.1C435.1 921.5 437.1 921.0 439.1 920.5C441.1 920.1 443.1 919.6 445.1 919.2C447.1 918.9 449.1 918.5 451.1 918.3C453.1 918.0 455.1 917.8 457.1 917.6C459.1 917.5 461.1 917.3 463.1 917.3C465.1 917.2 467.1 917.1 469.1 917.1C471.1 917.0 473.1 917.0 475.1 917.0C477.1 917.0 479.1 917.0 481.1 917.0C483.1 917.0 485.1 916.9 487.1 916.9C489.1 916.8 491.1 916.7 493.1 916.6C495.1 916.4 497.1 916.2 499.1 915.9C501.1 915.6 503.1 915.2 505.1 914.7C507.1 914.3 509.1 913.7 511.1 913.0C513.1 912.4 515.1 911.6 517.1 910.7C519.1 909.9 521.1 909.0 523.1 907.9C525.1 906.9 527.1 905.8 529.1 904.5C531.1 903.3 533.1 901.9 535.1 900.4C537.1 899.0 539.1 897.4 541.1 895.8C543.1 894.1 545.1 892.4 547.1 890.5C549.1 888.6 551.1 886.6 553.1 884.4C555.1 882.2 557.1 879.9 559.1 877.4C561.1 874.9 563.1 872.3 565.1 869.7C567.1 867.0 569.1 864.3 571.1 861.6C573.1 858.8 575.1 856.1 577.1 853.3C579.1 850.5 581.1 847.7 583.1 844.9C585.1 842.1 587.1 839.2 589.1 836.4C591.1 833.6 593.1 830.8 595.1 828.0C597.1 825.3 599.1 822.6 601.1 819.9C603.1 817.3 605.1 814.8 607.1 812.3C609.1 809.8 611.1 807.4 613.1 805.1C615.1 802.8 617.1 800.5 619.1 798.4C621.1 796.3 623.1 794.2 625.1 792.3C627.1 790.4 629.1 788.5 631.1 786.8C633.1 785.0 635.1 783.4 637.1 781.8C639.1 780.2 641.1 778.8 643.1 777.4C645.1 776.0 647.1 774.7 649.1 773.5C651.1 772.3 653.1 771.1 655.1 770.0C657.1 768.9 659.1 767.8 661.1 766.8C663.1 765.7 665.1 764.6 667.1 763.5C669.1 762.3 671.1 761.2 673.1 759.9C675.1 758.6 677.1 757.3 679.1 755.8C681.1 754.4 683.1 752.8 685.1 751.1C687.1 749.5 689.1 747.7 691.1 745.9C693.1 744.2 695.1 742.3 697.1 740.4C699.1 738.5 701.1 736.6 703.1 734.5C705.1 732.4 707.1 730.3 709.1 727.9C711.1 725.6 713.1 723.2 715.1 720.6C717.1 718.0 719.1 715.2 721.1 712.2C723.1 709.2 725.1 706.0 727.1 702.7C729.1 699.3 731.1 695.8 733.1 692.2C735.1 688.6 737.1 684.9 739.1 681.1C741.1 677.4 743.1 673.6 745.1 669.9C747.1 666.2 749.1 662.4 751.1 658.7C753.1 655.0 755.1 651.3 757.1 647.6C759.1 643.8 761.1 640.1 763.1 636.3C765.1 632.5 767.1 628.7 769.1 624.9C771.1 621.1 773.1 617.2 775.1 613.5C777.1 609.7 779.1 606.0 781.1 602.5C783.1 599.0 785.1 595.5 787.1 592.3C789.1 589.0 791.1 585.9 793.1 582.9C795.1 580.0 797.1 577.1 799.1 574.4C801.1 571.7 803.1 569.2 805.1 566.8C807.1 564.3 809.1 562.0 811.1 559.9C813.1 557.8 815.1 555.7 817.1 553.9C819.1 552.0 821.1 550.3 823.1 548.7C825.1 547.2 827.1 545.8 829.1 544.5C831.1 543.2 833.1 542.2 835.1 541.2C837.1 540.2 839.1 539.3 841.1 538.5C843.1 537.7 845.1 537.0 847.1 536.3C849.1 535.7 851.1 535.1 853.1 534.6C855.1 534.1 857.1 533.7 859.1 533.4C861.1 533.1 863.1 532.8 865.1 532.7C867.1 532.5 869.1 532.5 871.1 532.5C873.1 532.5 875.1 532.6 877.1 532.8C879.1 532.9 881.1 533.2 883.1 533.6C885.1 534.0 887.1 534.5 889.1 535.1C891.1 535.6 893.1 536.3 895.1 537.1C897.1 537.9 899.1 538.9 901.1 539.9C903.1 540.9 905.1 542.1 907.1 543.4C909.1 544.6 911.1 546.0 913.1 547.5C915.1 549.0 917.1 550.5 919.1 552.2C921.1 553.9 923.1 555.6 925.1 557.5C927.1 559.3 929.1 561.3 931.1 563.4C933.1 565.5 935.1 567.8 937.1 570.1C939.1 572.5 941.1 574.9 943.1 577.5C945.1 580.1 947.1 582.7 949.1 585.5C951.1 588.4 953.1 591.3 955.1 594.4C957.1 597.5 959.1 600.8 961.1 604.2C963.1 607.6 965.1 611.2 967.1 614.8C969.1 618.4 971.1 622.0 973.1 625.7C975.1 629.4 977.1 633.2 979.1 637.1C981.1 641.1 983.1 645.1 985.1 649.4C987.1 653.6 989.1 658.0 991.1 662.6C993.1 667.3 995.1 672.1 997.1 677.0C999.1 682.0 1001.1 687.1 1003.1 692.3C1005.1 697.5 1007.1 702.9 1009.1 708.3C1011.1 713.7 1013.1 719.2 1015.1 724.7C1017.1 730.2 1019.1 735.7 1021.1 741.3C1023.1 746.9 1025.1 752.5 1027.1 758.2C1029.1 763.9 1031.1 769.6 1033.1 775.4C1035.1 781.3 1037.1 787.2 1039.1 793.2C1041.1 799.2 1043.1 805.3 1045.1 811.5C1047.1 817.7 1049.1 824.0 1051.1 830.4C1053.1 836.8 1055.1 843.3 1057.1 850.0C1059.1 856.6 1061.1 863.3 1063.1 870.2C1065.1 877.0 1067.1 884.1 1069.1 891.3C1071.1 898.5 1073.1 905.9 1075.1 913.3C1077.1 920.8 1079.1 928.4 1081.1 935.9C1083.1 943.4 1085.1 950.9 1087.1 958.3C1089.1 965.6 1091.1 972.9 1093.1 980.0C1095.1 987.1 1097.1 994.1 1099.1 1000.7C1101.1 1007.4 1103.1 1013.9 1105.1 1020.0C1107.1 1026.1 1109.1 1031.9 1111.1 1037.5C1113.1 1043.1 1115.1 1048.3 1117.1 1053.3C1119.1 1058.3 1121.1 1063.1 1123.1 1067.7C1125.1 1072.3 1127.1 1076.7 1129.1 1080.9C1131.1 1085.1 1133.1 1089.0 1135.1 1092.7C1137.1 1096.4 1139.1 1099.8 1141.1 1103.0C1143.1 1106.1 1145.1 1109.0 1147.1 1111.5C1149.1 1114.1 1151.1 1116.4 1153.1 1118.4C1155.1 1120.4 1157.1 1122.1 1159.1 1123.5C1161.1 1125.0 1163.1 1126.1 1165.1 1127.0C1167.1 1127.8 1169.1 1128.4 1171.1 1128.6C1173.1 1128.9 1175.1 1128.8 1177.1 1128.5C1179.1 1128.1 1181.1 1127.5 1183.1 1126.6C1185.1 1125.7 1187.1 1124.6 1189.1 1123.2C1191.1 1121.9 1193.1 1120.3 1195.1 1118.5C1197.1 1116.7 1199.1 1114.8 1201.1 1112.6C1203.1 1110.4 1205.1 1108.0 1207.1 1105.5C1209.1 1102.9 1211.1 1100.2 1213.1 1097.3C1215.1 1094.4 1217.1 1091.4 1219.1 1088.2C1221.1 1084.9 1223.1 1081.6 1225.1 1078.1C1227.1 1074.6 1229.1 1070.9 1231.1 1067.1C1233.1 1063.4 1235.1 1059.5 1237.1 1055.5C1239.1 1051.5 1241.1 1047.4 1243.1 1043.2C1245.1 1039.1 1247.1 1034.8 1249.1 1030.6C1251.1 1026.3 1253.1 1021.9 1255.1 1017.5C1257.1 1013.1 1259.1 1008.7 1261.1 1004.2C1263.1 999.7 1265.1 995.2 1267.1 990.7C1269.1 986.1 1271.1 981.6 1273.1 976.9C1275.1 972.3 1277.1 967.6 1279.1 962.9C1281.1 958.3 1283.1 953.5 1285.1 948.8C1287.1 944.1 1289.1 939.4 1291.1 934.8C1293.1 930.2 1295.1 925.6 1297.1 921.1C1299.1 916.6 1301.1 912.3 1303.1 908.0C1305.1 903.7 1307.1 899.6 1309.1 895.5C1311.1 891.4 1313.1 887.3 1315.1 883.3C1317.1 879.3 1319.1 875.3 1321.1 871.3C1323.1 867.3 1325.1 863.3 1327.1 859.2C1329.1 855.2 1331.1 851.1 1333.1 847.1C1335.1 843.0 1337.1 838.9 1339.1 834.9C1341.1 830.9 1343.1 826.8 1345.1 822.9C1347.1 818.9 1349.1 815.0 1351.1 811.2C1353.1 807.4 1355.1 803.7 1357.1 800.0C1359.1 796.4 1361.1 792.8 1363.1 789.3C1365.1 785.8 1367.1 782.4 1369.1 779.1C1371.1 775.7 1373.1 772.4 1375.1 769.2C1377.1 765.9 1379.1 762.7 1381.1 759.5C1383.1 756.4 1385.1 753.3 1387.1 750.2C1389.1 747.2 1391.1 744.1 1393.1 741.2C1395.1 738.3 1397.1 735.4 1399.1 732.6C1401.1 729.8 1403.1 727.1 1405.1 724.4C1407.1 721.7 1409.1 719.1 1411.1 716.6C1413.1 714.1 1415.1 711.6 1417.1 709.1C1419.1 706.7 1421.1 704.3 1423.1 702.0C1425.1 699.6 1427.1 697.3 1429.1 695.0C1431.1 692.7 1433.1 690.4 1435.1 688.0C1437.1 685.7 1439.1 683.4 1441.1 681.1C1443.1 678.8 1445.1 676.5 1447.1 674.2C1449.1 671.9 1451.1 669.6 1453.1 667.3C1455.1 665.0 1457.1 662.7 1459.1 660.4C1461.1 658.1 1463.1 655.7 1465.1 653.4C1467.1 651.1 1469.1 648.8 1471.1 646.6C1473.1 644.4 1475.1 642.2 1477.1 640.1C1479.1 638.0 1481.1 636.0 1483.1 633.9C1485.1 631.9 1487.1 629.9 1489.1 627.9C1491.1 625.9 1493.1 623.9 1495.1 621.9C1497.1 620.0 1499.1 618.0 1501.1 616.2C1503.1 614.3 1505.1 612.4 1507.1 610.6C1509.1 608.8 1511.1 607.0 1513.1 605.3C1515.1 603.6 1517.1 602.0 1519.1 600.3C1521.1 598.7 1523.1 597.1 1525.1 595.5C1527.1 594.0 1529.1 592.4 1531.1 590.9C1533.1 589.3 1535.1 587.8 1537.1 586.2C1539.1 584.7 1541.1 583.2 1543.1 581.7C1545.1 580.2 1547.1 578.6 1549.1 577.2C1551.1 575.7 1553.1 574.2 1555.1 572.8C1557.1 571.3 1559.1 569.9 1561.1 568.5C1563.1 567.1 1565.1 565.8 1567.1 564.4C1569.1 563.1 1571.1 561.8 1573.1 560.6C1575.1 559.3 1577.1 558.1 1579.1 556.9C1581.1 555.6 1583.1 554.4 1585.1 553.3C1587.1 552.1 1589.1 550.9 1591.1 549.8C1593.1 548.6 1595.1 547.5 1597.1 546.4C1599.1 545.2 1601.1 544.1 1603.1 543.0C1605.1 541.9 1607.1 540.7 1609.1 539.6C1611.1 538.5 1613.1 537.3 1615.1 536.2C1617.1 535.1 1619.1 533.9 1621.1 532.8C1623.1 531.7 1625.1 530.6 1627.1 529.5C1629.1 528.5 1631.1 527.4 1633.1 526.4C1635.1 525.4 1637.1 524.3 1639.1 523.3C1641.1 522.3 1643.1 521.4 1645.1 520.4C1647.1 519.4 1649.1 518.5 1651.1 517.5C1653.1 516.6 1655.1 515.7 1657.1 514.8C1659.1 513.9 1661.1 513.0 1663.1 512.1C1665.1 511.2 1667.1 510.3 1669.1 509.5C1671.1 508.6 1673.1 507.8 1675.1 506.9C1677.1 506.1 1679.1 505.3 1681.1 504.4C1683.1 503.6 1685.1 502.8 1687.1 501.9C1689.1 501.1 1691.1 500.3 1693.1 499.5C1695.1 498.7 1697.1 497.9 1699.1 497.1C1701.1 496.3 1703.1 495.5 1705.1 494.7C1707.1 493.9 1709.1 493.2 1711.1 492.4C1713.1 491.6 1715.1 490.8 1717.1 490.1C1719.1 489.3 1721.1 488.5 1723.1 487.8C1725.1 487.0 1727.1 486.3 1729.1 485.5C1731.1 484.8 1733.1 484.1 1735.1 483.3C1737.1 482.6 1739.1 481.9 1741.1 481.2C1743.1 480.5 1745.1 479.7 1747.1 479.0C1749.1 478.3 1751.1 477.6 1753.1 476.9C1755.1 476.3 1757.1 475.6 1759.1 474.9C1761.1 474.2 1763.1 473.5 1765.1 472.9C1767.1 472.2 1769.1 471.5 1771.1 470.9C1773.1 470.2 1775.1 469.5 1777.1 468.9C1779.1 468.2 1781.1 467.6 1783.1 467.0C1785.1 466.3 1787.1 465.7 1789.1 465.0C1791.1 464.4 1793.1 463.8 1795.1 463.2C1797.1 462.5 1799.1 461.9 1801.1 461.3C1803.1 460.7 1805.1 460.1 1807.1 459.5C1809.1 458.9 1811.1 458.3 1813.1 457.7C1815.1 457.1 1817.1 456.5 1819.1 455.9C1821.1 455.3 1823.1 454.7 1825.1 454.1C1827.1 453.5 1829.1 452.9 1831.1 452.3C1833.1 451.7 1835.1 451.1 1837.1 450.5C1839.1 450.0 1841.1 449.4 1843.1 448.8C1845.1 448.2 1847.1 447.6 1849.1 447.0C1851.1 446.4 1853.1 445.8 1855.1 445.2C1857.1 444.6 1859.1 444.0 1861.1 443.4C1863.1 442.8 1865.1 442.2 1867.1 441.6C1869.1 441.0 1871.1 440.4 1873.1 439.8C1875.1 439.2 1877.1 438.6 1879.1 438.0C1881.1 437.4 1883.1 436.8 1885.1 436.1C1887.1 435.5 1889.1 434.9 1891.1 434.3C1893.1 433.7 1895.1 433.0 1897.1 432.4C1899.1 431.8 1901.1 431.2 1903.1 430.5C1905.1 429.9 1907.1 429.3 1909.1 428.7C1911.1 428.1 1913.1 427.4 1915.1 426.8C1917.1 426.2 1919.1 425.6 1921.1 425.0C1923.1 424.4 1925.1 423.7 1927.1 423.1C1929.1 422.5 1931.1 421.9 1933.1 421.3C1935.1 420.7 1937.1 420.1 1939.1 419.5C1941.1 418.9 1943.1 418.4 1945.1 417.8C1947.1 417.2 1949.1 416.6 1951.1 416.0C1953.1 415.5 1955.1 414.9 1957.1 414.3C1959.1 413.8 1961.1 413.2 1963.1 412.7C1965.1 412.1 1967.1 411.6 1969.1 411.0C1971.1 410.5 1973.1 410.0 1975.1 409.4C1977.1 408.9 1979.1 408.4 1981.1 407.9C1983.1 407.4 1985.1 406.9 1987.1 406.4C1989.1 405.9 1991.1 405.4 1993.1 404.9C1995.1 404.4 1997.1 403.9 1999.1 403.4C2001.1 402.9 2003.1 402.5 2005.1 402.0C2007.1 401.5 2009.1 401.1 2011.1 400.6C2013.1 400.1 2015.1 399.7 2017.1 399.2C2019.1 398.8 2021.1 398.3 2023.1 397.9C2025.1 397.4 2027.1 397.0 2029.1 396.6C2031.1 396.1 2033.1 395.7 2035.1 395.3C2037.1 394.8 2039.1 394.4 2041.1 394.0C2043.1 393.6 2045.1 393.2 2047.1 392.7C2049.1 392.3 2051.1 391.9 2053.1 391.5C2055.1 391.1 2057.1 390.7 2059.1 390.3C2061.1 389.9 2063.1 389.5 2065.1 389.1C2067.1 388.7 2069.1 388.3 2071.1 387.9C2073.1 387.5 2075.1 387.1 2077.1 386.7C2079.1 386.3 2081.1 385.9 2083.1 385.5C2085.1 385.1 2087.1 384.8 2089.1 384.4C2091.1 384.0 2093.1 383.6 2095.1 383.2C2097.1 382.9 2099.1 382.5 2101.1 382.1C2103.1 381.7 2105.1 381.4 2107.1 381.0C2109.1 380.6 2111.1 380.3 2113.1 379.9C2115.1 379.5 2117.1 379.1 2119.1 378.8C2121.1 378.4 2123.1 378.0 2125.1 377.7C2127.1 377.3 2129.1 376.9 2131.1 376.6C2133.1 376.2 2135.1 375.8 2137.1 375.5C2139.1 375.1 2141.1 374.7 2143.1 374.4C2145.1 374.0 2147.1 373.6 2149.1 373.3C2151.1 372.9 2153.1 372.5 2155.1 372.2C2157.1 371.8 2159.1 371.4 2161.1 371.0C2163.1 370.7 2165.1 370.3 2167.1 369.9C2169.1 369.5 2171.1 369.2 2173.1 368.8C2175.1 368.4 2177.1 368.0 2179.1 367.7C2181.1 367.3 2183.1 366.9 2185.1 366.5C2187.1 366.2 2189.1 365.8 2191.1 365.4C2193.1 365.0 2195.1 364.6 2197.1 364.3C2199.1 363.9 2201.1 363.5 2203.1 363.1C2205.1 362.7 2207.1 362.4 2209.1 362.0C2211.1 361.6 2213.1 361.2 2215.1 360.8C2217.1 360.5 2219.1 360.1 2221.1 359.7C2223.1 359.3 2225.1 358.9 2227.1 358.6C2229.1 358.2 2231.1 357.8 2233.1 357.4C2235.1 357.0 2237.1 356.7 2239.1 356.3C2241.1 355.9 2243.1 355.5 2245.1 355.2C2247.1 354.8 2249.1 354.4 2251.1 354.0C2253.1 353.7 2255.1 353.3 2257.1 352.9C2259.1 352.6 2261.1 352.2 2263.1 351.8C2265.1 351.5 2267.1 351.1 2269.1 350.7C2271.1 350.4 2273.1 350.0 2275.1 349.7C2277.1 349.3 2279.1 348.9 2281.1 348.6C2283.1 348.2 2285.1 347.9 2287.1 347.5C2289.1 347.2 2291.1 346.8 2293.1 346.5C2295.1 346.2 2297.1 345.8 2299.1 345.5C2301.1 345.1 2303.1 344.8 2305.1 344.5C2307.1 344.1 2309.1 343.8 2311.1 343.5C2313.1 343.2 2315.1 342.8 2317.1 342.5C2319.1 342.2 2321.1 341.9 2323.1 341.6C2325.1 341.3 2327.1 340.9 2329.1 340.6C2331.1 340.3 2333.1 340.0 2335.1 339.7C2337.1 339.4 2339.1 339.1 2341.1 338.8C2343.1 338.5 2345.1 338.2 2347.1 338.0C2349.1 337.7 2351.1 337.4 2353.1 337.1C2355.1 336.8 2357.1 336.5 2359.1 336.3C2361.1 336.0 2363.1 335.7 2365.1 335.4C2367.1 335.2 2369.1 334.9 2371.1 334.6C2373.1 334.4 2375.1 334.1 2377.1 333.8C2379.1 333.6 2382.1 333.2 2383.1 333.1" stroke="#ff0000" stroke-width="7.5"/><path d="M355.1 963.2C356.1 963.4 359.1 964.2 361.1 964.7C363.1 965.2 365.1 965.8 367.1 966.3C369.1 966.8 371.1 967.3 373.1 967.8C375.1 968.4 377.1 968.9 379.1 969.4C381.1 970.0 383.1 970.5 385.1 971.1C387.1 971.6 389.1 972.2 391.1 972.7C393.1 973.2 395.1 973.8 397.1 974.2C399.1 974.7 401.1 975.2 403.1 975.5C405.1 975.9 407.1 976.2 409.1 976.5C411.1 976.7 413.1 976.9 415.1 977.0C417.1 977.1 419.1 977.1 421.1 977.0C423.1 977.0 425.1 976.8 427.1 976.5C429.1 976.3 431.1 975.9 433.1 975.4C435.1 974.8 437.1 974.2 439.1 973.5C441.1 972.7 443.1 971.9 445.1 970.9C447.1 970.0 449.1 968.9 451.1 967.8C453.1 966.7 455.1 965.5 457.1 964.3C459.1 963.1 461.1 961.8 463.1 960.5C465.1 959.2 467.1 957.9 469.1 956.5C471.1 955.2 473.1 953.8 475.1 952.5C477.1 951.2 479.1 949.8 481.1 948.5C483.1 947.2 485.1 945.8 487.1 944.6C489.1 943.3 491.1 942.0 493.1 940.7C495.1 939.5 497.1 938.3 499.1 937.1C501.1 935.9 503.1 934.7 505.1 933.6C507.1 932.4 509.1 931.3 511.1 930.2C513.1 929.1 515.1 928.0 517.1 926.9C519.1 925.8 521.1 924.7 523.1 923.5C525.1 922.3 527.1 921.1 529.1 919.9C531.1 918.6 533.1 917.3 535.1 915.9C537.1 914.6 539.1 913.2 541.1 911.8C543.1 910.4 545.1 908.9 547.1 907.5C549.1 906.0 551.1 904.6 553.1 903.2C555.1 901.8 557.1 900.4 559.1 899.1C561.1 897.7 563.1 896.4 565.1 895.1C567.1 893.9 569.1 892.6 571.1 891.4C573.1 890.2 575.1 889.0 577.1 887.8C579.1 886.6 581.1 885.5 583.1 884.3C585.1 883.2 587.1 882.1 589.1 881.0C591.1 879.9 593.1 878.8 595.1 877.7C597.1 876.6 599.1 875.5 601.1 874.4C603.1 873.4 605.1 872.3 607.1 871.3C609.1 870.3 611.1 869.3 613.1 868.3C615.1 867.3 617.1 866.3 619.1 865.4C621.1 864.4 623.1 863.5 625.1 862.6C627.1 861.6 629.1 860.7 631.1 859.8C633.1 859.0 635.1 858.1 637.1 857.2C639.1 856.3 641.1 855.5 643.1 854.7C645.1 853.8 647.1 853.0 649.1 852.2C651.1 851.4 653.1 850.6 655.1 849.9C657.1 849.1 659.1 848.4 661.1 847.7C663.1 847.0 665.1 846.3 667.1 845.6C669.1 845.0 671.1 844.3 673.1 843.7C675.1 843.1 677.1 842.5 679.1 841.9C681.1 841.3 683.1 840.7 685.1 840.1C687.1 839.5 689.1 838.9 691.1 838.3C693.1 837.7 695.1 837.1 697.1 836.5C699.1 835.9 701.1 835.4 703.1 834.7C705.1 834.1 707.1 833.4 709.1 832.7C711.1 832.0 713.1 831.2 715.1 830.4C717.1 829.6 719.1 828.7 721.1 827.7C723.1 826.8 725.1 825.8 727.1 824.7C729.1 823.7 731.1 822.6 733.1 821.4C735.1 820.2 737.1 819.0 739.1 817.8C741.1 816.5 743.1 815.2 745.1 813.9C747.1 812.6 749.1 811.2 751.1 809.8C753.1 808.5 755.1 807.1 757.1 805.7C759.1 804.3 761.1 802.9 763.1 801.5C765.1 800.1 767.1 798.7 769.1 797.3C771.1 795.9 773.1 794.6 775.1 793.2C777.1 791.9 779.1 790.6 781.1 789.4C783.1 788.2 785.1 787.1 787.1 786.0C789.1 784.9 791.1 783.9 793.1 783.0C795.1 782.0 797.1 781.2 799.1 780.4C801.1 779.6 803.1 778.9 805.1 778.3C807.1 777.6 809.1 777.1 811.1 776.6C813.1 776.1 815.1 775.6 817.1 775.2C819.1 774.8 821.1 774.4 823.1 774.1C825.1 773.7 827.1 773.3 829.1 773.0C831.1 772.6 833.1 772.2 835.1 771.8C837.1 771.4 839.1 771.0 841.1 770.6C843.1 770.1 845.1 769.7 847.1 769.2C849.1 768.7 851.1 768.2 853.1 767.7C855.1 767.2 857.1 766.6 859.1 766.0C861.1 765.4 863.1 764.8 865.1 764.2C867.1 763.5 869.1 762.9 871.1 762.2C873.1 761.5 875.1 760.8 877.1 760.1C879.1 759.3 881.1 758.6 883.1 757.9C885.1 757.1 887.1 756.4 889.1 755.7C891.1 755.0 893.1 754.3 895.1 753.6C897.1 752.9 899.1 752.3 901.1 751.6C903.1 751.0 905.1 750.3 907.1 749.7C909.1 749.1 911.1 748.4 913.1 747.8C915.1 747.2 917.1 746.6 919.1 746.0C921.1 745.4 923.1 744.8 925.1 744.2C927.1 743.6 929.1 743.0 931.1 742.5C933.1 742.0 935.1 741.5 937.1 740.9C939.1 740.4 941.1 739.9 943.1 739.4C945.1 738.9 947.1 738.4 949.1 737.8C951.1 737.2 953.1 736.7 955.1 736.0C957.1 735.4 959.1 734.6 961.1 733.9C963.1 733.2 965.1 732.4 967.1 731.6C969.1 730.8 971.1 730.0 973.1 729.2C975.1 728.4 977.1 727.6 979.1 726.7C981.1 725.9 983.1 725.0 985.1 724.2C987.1 723.3 989.1 722.4 991.1 721.5C993.1 720.7 995.1 719.8 997.1 718.9C999.1 718.0 1001.1 717.1 1003.1 716.2C1005.1 715.3 1007.1 714.5 1009.1 713.7C1011.1 712.8 1013.1 712.0 1015.1 711.3C1017.1 710.5 1019.1 709.8 1021.1 709.1C1023.1 708.3 1025.1 707.6 1027.1 707.0C1029.1 706.3 1031.1 705.6 1033.1 705.0C1035.1 704.3 1037.1 703.7 1039.1 703.1C1041.1 702.4 1043.1 701.8 1045.1 701.2C1047.1 700.7 1049.1 700.1 1051.1 699.5C1053.1 699.0 1055.1 698.4 1057.1 697.9C1059.1 697.3 1061.1 696.8 1063.1 696.3C1065.1 695.8 1067.1 695.3 1069.1 694.8C1071.1 694.3 1073.1 693.8 1075.1 693.3C1077.1 692.9 1079.1 692.4 1081.1 692.0C1083.1 691.5 1085.1 691.1 1087.1 690.7C1089.1 690.2 1091.1 689.8 1093.1 689.3C1095.1 688.9 1097.1 688.4 1099.1 687.9C1101.1 687.5 1103.1 687.0 1105.1 686.5C1107.1 686.0 1109.1 685.5 1111.1 685.0C1113.1 684.4 1115.1 683.9 1117.1 683.4C1119.1 682.9 1121.1 682.3 1123.1 681.8C1125.1 681.3 1127.1 680.7 1129.1 680.1C1131.1 679.5 1133.1 678.9 1135.1 678.3C1137.1 677.7 1139.1 677.0 1141.1 676.4C1143.1 675.7 1145.1 675.0 1147.1 674.3C1149.1 673.6 1151.1 672.9 1153.1 672.1C1155.1 671.4 1157.1 670.6 1159.1 669.8C1161.1 669.0 1163.1 668.2 1165.1 667.4C1167.1 666.6 1169.1 665.8 1171.1 665.0C1173.1 664.2 1175.1 663.3 1177.1 662.5C1179.1 661.7 1181.1 660.9 1183.1 660.1C1185.1 659.3 1187.1 658.5 1189.1 657.7C1191.1 656.9 1193.1 656.2 1195.1 655.4C1197.1 654.7 1199.1 654.0 1201.1 653.3C1203.1 652.6 1205.1 651.9 1207.1 651.3C1209.1 650.6 1211.1 650.0 1213.1 649.4C1215.1 648.8 1217.1 648.2 1219.1 647.6C1221.1 647.1 1223.1 646.5 1225.1 646.0C1227.1 645.4 1229.1 644.9 1231.1 644.4C1233.1 643.9 1235.1 643.4 1237.1 642.8C1239.1 642.3 1241.1 641.8 1243.1 641.3C1245.1 640.8 1247.1 640.3 1249.1 639.7C1251.1 639.2 1253.1 638.7 1255.1 638.2C1257.1 637.7 1259.1 637.2 1261.1 636.6C1263.1 636.1 1265.1 635.6 1267.1 635.1C1269.1 634.6 1271.1 634.1 1273.1 633.6C1275.1 633.0 1277.1 632.5 1279.1 632.0C1281.1 631.5 1283.1 631.0 1285.1 630.4C1287.1 629.9 1289.1 629.4 1291.1 628.8C1293.1 628.3 1295.1 627.7 1297.1 627.1C1299.1 626.5 1301.1 625.9 1303.1 625.3C1305.1 624.7 1307.1 624.0 1309.1 623.4C1311.1 622.8 1313.1 622.1 1315.1 621.5C1317.1 620.9 1319.1 620.3 1321.1 619.8C1323.1 619.2 1325.1 618.7 1327.1 618.2C1329.1 617.7 1331.1 617.2 1333.1 616.7C1335.1 616.2 1337.1 615.8 1339.1 615.3C1341.1 614.9 1343.1 614.4 1345.1 614.0C1347.1 613.5 1349.1 613.1 1351.1 612.7C1353.1 612.2 1355.1 611.8 1357.1 611.2C1359.1 610.7 1361.1 610.1 1363.1 609.5C1365.1 608.9 1367.1 608.3 1369.1 607.6C1371.1 606.9 1373.1 606.2 1375.1 605.5C1377.1 604.8 1379.1 604.1 1381.1 603.3C1383.1 602.6 1385.1 601.8 1387.1 601.1C1389.1 600.3 1391.1 599.5 1393.1 598.7C1395.1 597.9 1397.1 597.1 1399.1 596.2C1401.1 595.3 1403.1 594.4 1405.1 593.4C1407.1 592.5 1409.1 591.5 1411.1 590.4C1413.1 589.3 1415.1 588.2 1417.1 587.0C1419.1 585.8 1421.1 584.5 1423.1 583.1C1425.1 581.7 1427.1 580.3 1429.1 578.8C1431.1 577.3 1433.1 575.7 1435.1 574.2C1437.1 572.6 1439.1 571.1 1441.1 569.6C1443.1 568.2 1445.1 566.7 1447.1 565.4C1449.1 564.0 1451.1 562.7 1453.1 561.4C1455.1 560.1 1457.1 558.8 1459.1 557.6C1461.1 556.3 1463.1 555.1 1465.1 553.9C1467.1 552.7 1469.1 551.5 1471.1 550.3C1473.1 549.1 1475.1 547.9 1477.1 546.7C1479.1 545.5 1481.1 544.3 1483.1 543.2C1485.1 542.1 1487.1 541.0 1489.1 540.0C1491.1 539.0 1493.1 538.0 1495.1 537.1C1497.1 536.2 1499.1 535.4 1501.1 534.6C1503.1 533.9 1505.1 533.2 1507.1 532.6C1509.1 532.0 1511.1 531.5 1513.1 531.1C1515.1 530.7 1517.1 530.4 1519.1 530.2C1521.1 530.0 1523.1 529.9 1525.1 529.9C1527.1 530.0 1529.1 530.2 1531.1 530.5C1533.1 530.9 1535.1 531.4 1537.1 532.2C1539.1 532.9 1541.1 533.8 1543.1 534.9C1545.1 536.0 1547.1 537.2 1549.1 538.7C1551.1 540.1 1553.1 541.7 1555.1 543.6C1557.1 545.5 1559.1 547.5 1561.1 550.0C1563.1 552.5 1565.1 555.2 1567.1 558.6C1569.1 561.9 1571.1 565.8 1573.1 570.0C1575.1 574.2 1577.1 579.0 1579.1 583.9C1581.1 588.8 1583.1 594.0 1585.1 599.3C1587.1 604.6 1589.1 610.1 1591.1 615.8C1593.1 621.4 1595.1 627.2 1597.1 633.3C1599.1 639.3 1601.1 645.5 1603.1 651.9C1605.1 658.3 1607.1 665.0 1609.1 671.8C1611.1 678.7 1613.1 685.8 1615.1 693.0C1617.1 700.3 1619.1 707.8 1621.1 715.3C1623.1 722.9 1625.1 730.5 1627.1 738.3C1629.1 746.0 1631.1 753.8 1633.1 761.8C1635.1 769.7 1637.1 777.8 1639.1 786.1C1641.1 794.5 1643.1 803.1 1645.1 811.8C1647.1 820.5 1649.1 829.5 1651.1 838.3C1653.1 847.1 1655.1 856.0 1657.1 864.6C1659.1 873.2 1661.1 881.6 1663.1 889.8C1665.1 898.0 1667.1 906.0 1669.1 913.7C1671.1 921.4 1673.1 929.0 1675.1 936.2C1677.1 943.4 1679.1 950.4 1681.1 957.0C1683.1 963.6 1685.1 969.9 1687.1 975.8C1689.1 981.8 1691.1 987.3 1693.1 992.5C1695.1 997.7 1697.1 1002.5 1699.1 1006.9C1701.1 1011.3 1703.1 1015.4 1705.1 1019.0C1707.1 1022.6 1709.1 1025.9 1711.1 1028.6C1713.1 1031.4 1715.1 1033.8 1717.1 1035.7C1719.1 1037.6 1721.1 1039.1 1723.1 1040.1C1725.1 1041.1 1727.1 1041.6 1729.1 1041.7C1731.1 1041.8 1733.1 1041.4 1735.1 1040.6C1737.1 1039.9 1739.1 1038.7 1741.1 1037.2C1743.1 1035.7 1745.1 1033.9 1747.1 1031.8C1749.1 1029.7 1751.1 1027.3 1753.1 1024.7C1755.1 1022.0 1757.1 1019.1 1759.1 1015.8C1761.1 1012.5 1763.1 1008.8 1765.1 1004.8C1767.1 1000.8 1769.1 996.4 1771.1 991.8C1773.1 987.2 1775.1 982.2 1777.1 977.1C1779.1 972.0 1781.1 966.6 1783.1 961.2C1785.1 955.8 1787.1 950.2 1789.1 944.7C1791.1 939.2 1793.1 933.6 1795.1 928.1C1797.1 922.7 1799.1 917.2 1801.1 911.9C1803.1 906.5 1805.1 901.2 1807.1 895.9C1809.1 890.7 1811.1 885.4 1813.1 880.2C1815.1 874.9 1817.1 869.6 1819.1 864.4C1821.1 859.2 1823.1 853.9 1825.1 848.7C1827.1 843.6 1829.1 838.4 1831.1 833.3C1833.1 828.2 1835.1 823.2 1837.1 818.1C1839.1 813.1 1841.1 807.9 1843.1 802.9C1845.1 797.8 1847.1 792.7 1849.1 787.9C1851.1 783.0 1853.1 778.3 1855.1 773.7C1857.1 769.2 1859.1 764.9 1861.1 760.6C1863.1 756.4 1865.1 752.2 1867.1 748.2C1869.1 744.2 1871.1 740.3 1873.1 736.6C1875.1 732.9 1877.1 729.2 1879.1 725.8C1881.1 722.3 1883.1 719.0 1885.1 715.8C1887.1 712.6 1889.1 709.5 1891.1 706.6C1893.1 703.6 1895.1 700.8 1897.1 698.0C1899.1 695.2 1901.1 692.6 1903.1 690.0C1905.1 687.5 1907.1 685.0 1909.1 682.6C1911.1 680.3 1913.1 678.0 1915.1 675.8C1917.1 673.6 1919.1 671.5 1921.1 669.4C1923.1 667.3 1925.1 665.3 1927.1 663.1C1929.1 661.0 1931.1 658.8 1933.1 656.6C1935.1 654.5 1937.1 652.2 1939.1 650.0C1941.1 647.9 1943.1 645.8 1945.1 643.7C1947.1 641.7 1949.1 639.7 1951.1 637.8C1953.1 635.8 1955.1 633.9 1957.1 632.1C1959.1 630.3 1961.1 628.6 1963.1 626.8C1965.1 625.1 1967.1 623.4 1969.1 621.8C1971.1 620.2 1973.1 618.6 1975.1 617.0C1977.1 615.5 1979.1 614.0 1981.1 612.5C1983.1 611.1 1985.1 609.8 1987.1 608.4C1989.1 607.1 1991.1 605.8 1993.1 604.6C1995.1 603.3 1997.1 602.1 1999.1 600.9C2001.1 599.7 2003.1 598.5 2005.1 597.4C2007.1 596.2 2009.1 595.1 2011.1 594.0C2013.1 592.9 2015.1 591.8 2017.1 590.7C2019.1 589.6 2021.1 588.5 2023.1 587.5C2025.1 586.4 2027.1 585.3 2029.1 584.3C2031.1 583.3 2033.1 582.2 2035.1 581.2C2037.1 580.2 2039.1 579.2 2041.1 578.2C2043.1 577.2 2045.1 576.2 2047.1 575.3C2049.1 574.3 2051.1 573.3 2053.1 572.4C2055.1 571.4 2057.1 570.5 2059.1 569.6C2061.1 568.6 2063.1 567.7 2065.1 566.8C2067.1 565.9 2069.1 565.0 2071.1 564.1C2073.1 563.2 2075.1 562.3 2077.1 561.5C2079.1 560.6 2081.1 559.7 2083.1 558.9C2085.1 558.1 2087.1 557.2 2089.1 556.4C2091.1 555.6 2093.1 554.7 2095.1 553.9C2097.1 553.1 2099.1 552.3 2101.1 551.5C2103.1 550.7 2105.1 549.9 2107.1 549.2C2109.1 548.4 2111.1 547.6 2113.1 546.8C2115.1 546.1 2117.1 545.3 2119.1 544.6C2121.1 543.8 2123.1 543.0 2125.1 542.3C2127.1 541.6 2129.1 540.8 2131.1 540.1C2133.1 539.3 2135.1 538.6 2137.1 537.9C2139.1 537.2 2141.1 536.4 2143.1 535.7C2145.1 535.0 2147.1 534.3 2149.1 533.6C2151.1 532.9 2153.1 532.2 2155.1 531.5C2157.1 530.8 2159.1 530.1 2161.1 529.4C2163.1 528.7 2165.1 528.0 2167.1 527.3C2169.1 526.7 2171.1 526.0 2173.1 525.3C2175.1 524.6 2177.1 524.0 2179.1 523.3C2181.1 522.6 2183.1 522.0 2185.1 521.3C2187.1 520.7 2189.1 520.0 2191.1 519.3C2193.1 518.7 2195.1 518.1 2197.1 517.4C2199.1 516.8 2201.1 516.1 2203.1 515.5C2205.1 514.9 2207.1 514.2 2209.1 513.6C2211.1 513.0 2213.1 512.3 2215.1 511.7C2217.1 511.1 2219.1 510.5 2221.1 509.9C2223.1 509.2 2225.1 508.6 2227.1 508.0C2229.1 507.4 2231.1 506.8 2233.1 506.2C2235.1 505.6 2237.1 505.0 2239.1 504.4C2241.1 503.8 2243.1 503.2 2245.1 502.6C2247.1 502.0 2249.1 501.4 2251.1 500.8C2253.1 500.2 2255.1 499.6 2257.1 499.1C2259.1 498.5 2261.1 497.9 2263.1 497.3C2265.1 496.7 2267.1 496.2 2269.1 495.6C2271.1 495.0 2273.1 494.4 2275.1 493.9C2277.1 493.3 2279.1 492.7 2281.1 492.2C2283.1 491.6 2285.1 491.0 2287.1 490.5C2289.1 489.9 2291.1 489.4 2293.1 488.8C2295.1 488.3 2297.1 487.8 2299.1 487.2C2301.1 486.7 2303.1 486.2 2305.1 485.6C2307.1 485.1 2309.1 484.6 2311.1 484.1C2313.1 483.6 2315.1 483.1 2317.1 482.6C2319.1 482.1 2321.1 481.6 2323.1 481.1C2325.1 480.6 2327.1 480.1 2329.1 479.7C2331.1 479.2 2333.1 478.7 2335.1 478.3C2337.1 477.8 2339.1 477.4 2341.1 477.0C2343.1 476.5 2345.1 476.1 2347.1 475.7C2349.1 475.2 2351.1 474.8 2353.1 474.4C2355.1 474.0 2357.1 473.6 2359.1 473.2C2361.1 472.8 2363.1 472.4 2365.1 472.1C2367.1 471.7 2369.1 471.3 2371.1 470.9C2373.1 470.6 2375.1 470.2 2377.1 469.8C2379.1 469.5 2382.1 469.0 2383.1 468.8" stroke="#800080" stroke-width="7.5"/></g>
<g><text transform="translate(474.52 1661.00) scale(1 1.0300)" font-size="71" text-anchor="middle">800</text><text transform="translate(1017.60 1661.00) scale(1 1.0300)" font-size="71" text-anchor="middle">900</text><text transform="translate(1560.68 1661.00) scale(1 1.0300)" font-size="71" text-anchor="middle">1000</text><text transform="translate(2103.76 1661.00) scale(1 1.0300)" font-size="71" text-anchor="middle">1100</text><text transform="translate(319.30 1579.00) scale(1 1.0300)" font-size="71" text-anchor="end">0</text><text transform="translate(319.30 1279.70) scale(1 1.0300)" font-size="71" text-anchor="end">20</text><text transform="translate(319.30 980.40) scale(1 1.0300)" font-size="71" text-anchor="end">40</text><text transform="translate(319.30 681.10) scale(1 1.0300)" font-size="71" text-anchor="end">60</text><text transform="translate(319.30 381.80) scale(1 1.0300)" font-size="71" text-anchor="end">80</text><text transform="translate(319.30 82.50) scale(1 1.0300)" font-size="71" text-anchor="end">100</text></g>
<text transform="translate(1374.40 1794.00) scale(1 1.0270)" font-size="84.8" text-anchor="middle">Wavelength (nm)</text>
<text transform="translate(78.90 836.90) rotate(-90) scale(1 1.0550)" font-size="84" text-anchor="middle">Reflectance (%)</text>
<g><rect x="1930.2" y="1077.2" width="358.3" height="425.1" fill="#fff" stroke="#000" stroke-width="2.4"/><line x1="1966.8" y1="1160.0" x2="2125.2" y2="1160.0" stroke="#000000" stroke-width="7.8" stroke-linecap="round"/><text transform="translate(2144.00 1183.50) scale(1 1.0300)" font-size="71" text-anchor="start">5°</text><line x1="1966.8" y1="1246.6" x2="2125.2" y2="1246.6" stroke="#808000" stroke-width="7.0" stroke-linecap="round"/><text transform="translate(2144.00 1270.10) scale(1 1.0300)" font-size="71" text-anchor="start">15°</text><line x1="1966.8" y1="1333.0" x2="2125.2" y2="1333.0" stroke="#ff0000" stroke-width="7.0" stroke-linecap="round"/><text transform="translate(2144.00 1356.50) scale(1 1.0300)" font-size="71" text-anchor="start">25°</text><line x1="1966.8" y1="1420.0" x2="2125.2" y2="1420.0" stroke="#800080" stroke-width="7.0" stroke-linecap="round"/><text transform="translate(2144.00 1443.50) scale(1 1.0300)" font-size="71" text-anchor="start">35°</text></g>
</svg></body></html>
